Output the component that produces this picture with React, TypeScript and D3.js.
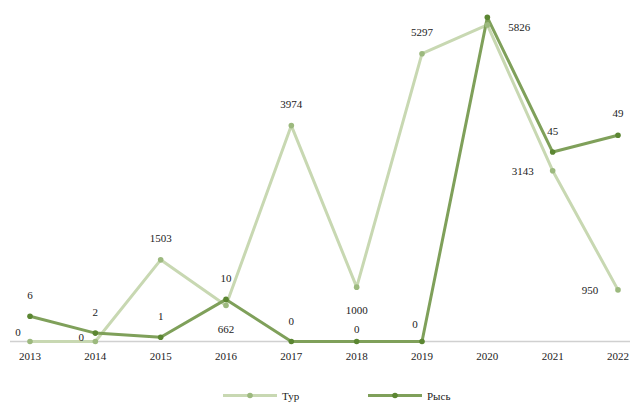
import React from "react";
import * as d3 from "d3";

const years = ["2013", "2014", "2015", "2016", "2017", "2018", "2019", "2020", "2021", "2022"];
const turValues = [0, 0, 1503, 662, 3974, 1000, 5297, 5826, 3143, 950];
const lynxValues = [6, 2, 1, 10, 0, 0, 0, 77, 45, 49];
const lynxLabelShown = [true, true, true, true, true, true, true, false, true, true];
const seriesNames = ["Тур", "Рысь"];

// label placement offsets (dx, dy) relative to the point
const turLabelOffsets: [number, number][] = [
  [-12, -6], [-14, -1], [0, -18], [0, 27], [0, -18], [0, 27], [0, -18], [32, 6], [-30, 4], [-28, 4],
];
const lynxLabelOffsets: [number, number][] = [
  [0, -17], [0, -17], [0, -17], [0, -17], [0, -17], [0, -9], [-7, -14], [0, 0], [0, -17], [0, -18],
];

const W = 630;
const H = 403;
const FONT = "'Liberation Serif', 'DejaVu Serif', serif";

export default function App() {
  const x = d3.scalePoint<string>().domain(years).range([30, 618]);
  const yTur = d3.scaleLinear().domain([0, 6000]).range([341.5, 15.5]);
  const yLynx = d3.scaleLinear().domain([0, 80]).range([341.5, 4.7]);

  const turColor = "#c8d8b2";
  const turDot = "#9cb97e";
  const lynxColor = "#7fa05a";
  const lynxDot = "#5b8632";

  const line = d3.line<[number, number]>().x((d) => d[0]).y((d) => d[1]);
  const turPts: [number, number][] = years.map((yr, i) => [x(yr)!, yTur(turValues[i])]);
  const lynxPts: [number, number][] = years.map((yr, i) => [x(yr)!, yLynx(lynxValues[i])]);

  return (
    <svg width={W} height={H} style={{ position: "absolute", left: 0, top: 0 }} fontFamily={FONT}>
      <rect width={W} height={H} fill="#fff" />
      <line x1={10} x2={630} y1={341.5} y2={341.5} stroke="#d0d0d0" strokeWidth={1.5} />
      {years.map((yr) => (
        <text key={yr} x={x(yr)} y={360} textAnchor="middle" fontSize={11} fill="#222">
          {yr}
        </text>
      ))}
      <path d={line(turPts)!} fill="none" stroke={turColor} strokeWidth={3} strokeLinejoin="round" />
      <path d={line(lynxPts)!} fill="none" stroke={lynxColor} strokeWidth={3} strokeLinejoin="round" />
      {turPts.map((p, i) => (
        <circle key={"td" + i} cx={p[0]} cy={p[1]} r={2.8} fill={turDot} />
      ))}
      {lynxPts.map((p, i) => (
        <circle key={"ld" + i} cx={p[0]} cy={p[1]} r={2.8} fill={lynxDot} />
      ))}
      {turPts.map((p, i) => (
        <text
          key={"tl" + i}
          x={p[0] + turLabelOffsets[i][0]}
          y={p[1] + turLabelOffsets[i][1]}
          textAnchor="middle"
          fontSize={11}
          fill="#222"
        >
          {turValues[i]}
        </text>
      ))}
      {lynxPts.map((p, i) =>
        lynxLabelShown[i] ? (
          <text
            key={"ll" + i}
            x={p[0] + lynxLabelOffsets[i][0]}
            y={p[1] + lynxLabelOffsets[i][1]}
            textAnchor="middle"
            fontSize={11}
            fill="#222"
          >
            {lynxValues[i]}
          </text>
        ) : null
      )}
      <g>
        <line x1={223} x2={277} y1={395.5} y2={395.5} stroke={turColor} strokeWidth={3} />
        <circle cx={250} cy={395.5} r={2.8} fill={turDot} />
        <text x={282} y={399.5} fontSize={11} fill="#222">{seriesNames[0]}</text>
        <line x1={368} x2={422} y1={395.5} y2={395.5} stroke={lynxColor} strokeWidth={3} />
        <circle cx={395} cy={395.5} r={2.8} fill={lynxDot} />
        <text x={427} y={399.5} fontSize={11} fill="#222">{seriesNames[1]}</text>
      </g>
    </svg>
  );
}
